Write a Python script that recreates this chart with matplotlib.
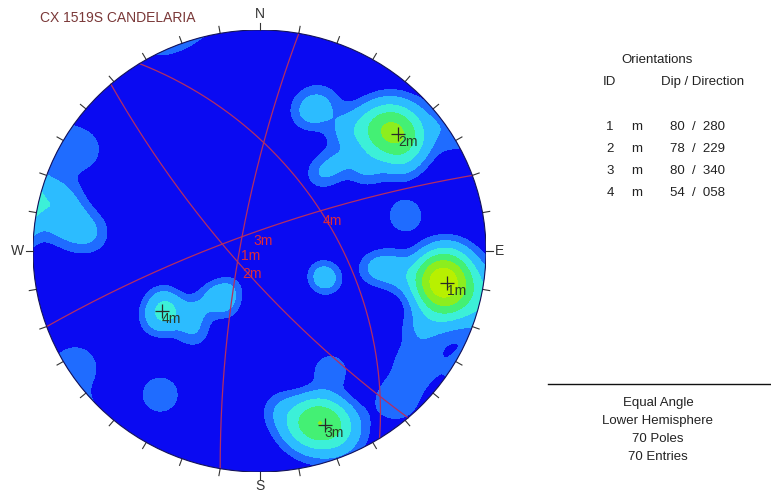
import numpy as np
import matplotlib.pyplot as plt
from matplotlib.patches import Circle

plt.rcParams['font.family'] = ['Liberation Sans', 'DejaVu Sans']

# poles to joints: trend / plunge in degrees (lower hemisphere)
pole_trend = [100, 98, 102, 96, 104, 100, 95, 105, 99, 103, 93, 108, 101, 97, 99, 101,
              100, 97, 99,
              116, 127, 138,
              49, 47, 52, 45, 50, 54, 44, 48, 57, 42,
              35, 41, 52, 39, 46,
              22, 19,
              38,
              160, 158, 163, 156, 161, 165, 157, 162, 168,
              150, 172,
              238, 235, 242, 233, 219, 226,
              212, 225, 218,
              282, 278, 285, 300, 276,
              237, 76, 111, 114, 214]
pole_plunge = [10, 12, 8, 9, 11, 14, 13, 7, 6, 15, 11, 10, 11, 16, 9, 13,
               24, 30, 36,
               13, 9, 6,
               12, 14, 10, 11, 16, 13, 15, 9, 17, 12,
               23, 34, 28, 18, 22,
               19, 23,
               42,
               10, 12, 8, 9, 14, 11, 6, 16, 12,
               26, 18,
               36, 33, 39, 40, 40, 48,
               58, 58, 65,
               6, 10, 3, 5, 16,
               2, 23, 57, 54, 14]

# mean sets: dip / dip direction
set_ids = ['1', '2', '3', '4']
set_dip = [80, 78, 80, 54]
set_dipdir = [280, 229, 340, 58]

title = 'CX 1519S CANDELARIA'
info_lines = ['Equal Angle', 'Lower Hemisphere', '70 Poles', '70 Entries']

level_values = [0.55, 1.15, 2.4, 4.0, 6.0, 8.5, 100]
level_colors = ['#1f6cff', '#2cbcff', '#3cf0d8', '#44f074', '#8cee1e', '#b8f000']
base_blue = '#0a0af2'
kappa = 140.0


def to_vec(trend, plunge):
    t = np.radians(trend)
    p = np.radians(plunge)
    return np.stack([np.cos(p) * np.sin(t), np.cos(p) * np.cos(t), np.sin(p)], axis=-1)


def project(trend, plunge):
    r = np.tan(np.radians(90 - np.asarray(plunge, float)) / 2)
    t = np.radians(trend)
    return r * np.sin(t), r * np.cos(t)


W, H = 771, 493
fig = plt.figure(figsize=(W / 100, H / 100), dpi=100)
ax = fig.add_axes([33 / W, 21 / H, 453 / W, 442 / H])
ax.set_xlim(-1, 1)
ax.set_ylim(-1, 1)
ax.axis('off')

# density grid (Fisher kernel, axial data)
n = 400
gx, gy = np.meshgrid(np.linspace(-1, 1, n), np.linspace(-1, 1, n))
gr = np.hypot(gx, gy)
g_plunge = 90 - 2 * np.degrees(np.arctan(gr))
g_trend = np.degrees(np.arctan2(gx, gy))
gv = to_vec(g_trend, g_plunge)
pv = to_vec(np.array(pole_trend), np.array(pole_plunge))
dots = np.abs(gv @ pv.T)
dens = np.exp(kappa * (dots - 1)).sum(axis=-1)

disk = Circle((0, 0), 1, facecolor=base_blue, edgecolor='none', zorder=0)
ax.add_patch(disk)
cf = ax.contourf(gx, gy, dens, levels=level_values, colors=level_colors, zorder=1)
clip = Circle((0, 0), 1, transform=ax.transData, facecolor='none')
cf.set_clip_path(clip)
ax.add_patch(Circle((0, 0), 1, facecolor='none', edgecolor='#14145a', lw=0.8, zorder=5))

# great circles of the mean planes
for sid, dip, dd in zip(set_ids, set_dip, set_dipdir):
    s = to_vec(dd - 90, 0)
    d = to_vec(dd, dip)
    t = np.radians(np.linspace(0, 180, 361))
    v = np.outer(np.cos(t), s) + np.outer(np.sin(t), d)
    v[:, 2] = np.clip(v[:, 2], 0, 1)
    tr = np.degrees(np.arctan2(v[:, 0], v[:, 1]))
    pl = np.degrees(np.arcsin(v[:, 2]))
    x, y = project(tr, pl)
    ax.plot(x, y, color='#b42e62', lw=0.9, zorder=3)
    lx, ly = project(dd, dip)
    ax.annotate(sid + 'm', (lx, ly), xytext=(1, -1), textcoords='offset pixels',
                ha='left', va='top', color='#e02a3a', fontsize=10, zorder=6)

    # pole of the plane
    px, py = project(dd + 180, 90 - dip)
    ax.plot(px, py, marker='+', ms=10, mew=0.9, color='#2a2a2a', zorder=6)
    ax.annotate(sid + 'm', (px, py), xytext=(0, -1), textcoords='offset pixels',
                ha='left', va='top', color='#283c28', fontsize=10, zorder=6)

# ticks every 10 degrees on the primitive
for az in range(0, 360, 10):
    a = np.radians(az)
    ax.plot([np.sin(a), 1.032 * np.sin(a)], [np.cos(a), 1.032 * np.cos(a)],
            color='#333333', lw=0.8, clip_on=False)

for lab, az, ha, va, off in [('N', 0, 'center', 'bottom', 1.04), ('E', 90, 'left', 'center', 1.04),
                             ('S', 180, 'center', 'top', 1.03), ('W', 270, 'right', 'center', 1.04)]:
    a = np.radians(az)
    ax.text(off * np.sin(a), off * np.cos(a), lab, ha=ha, va=va,
            fontsize=10, color='#333333', clip_on=False)

fig.text(40 / W, 1 - 18 / H, title, ha='left', va='center', fontsize=10, color='#7a3838')

# orientation table
fig.text(657 / W, 1 - 60 / H, 'Orientations', ha='center', va='center', fontsize=9.5, color='#222222')
fig.text(609 / W, 1 - 82 / H, 'ID', ha='center', va='center', fontsize=9.5, color='#222222')
fig.text(703 / W, 1 - 82 / H, 'Dip / Direction', ha='center', va='center', fontsize=9.5, color='#222222')
for i, (sid, dip, dd) in enumerate(zip(set_ids, set_dip, set_dipdir)):
    yy = 1 - (127 + 22 * i) / H
    fig.text(610 / W, yy, sid, ha='center', va='center', fontsize=9.5, color='#222222')
    fig.text(637 / W, yy, 'm', ha='center', va='center', fontsize=9.5, color='#222222')
    fig.text(698 / W, yy, f'{dip}  /  {dd:03d}', ha='center', va='center', fontsize=9.5, color='#222222')

fig.add_artist(plt.Line2D([548 / W, 1], [1 - 384 / H, 1 - 384 / H], color='#111111', lw=1))
for i, line in enumerate(info_lines):
    fig.text(658 / W, 1 - (403 + 18 * i) / H, line, ha='center', va='center', fontsize=9.5, color='#222222')

fig.savefig('out.png', dpi=100, facecolor='white')
